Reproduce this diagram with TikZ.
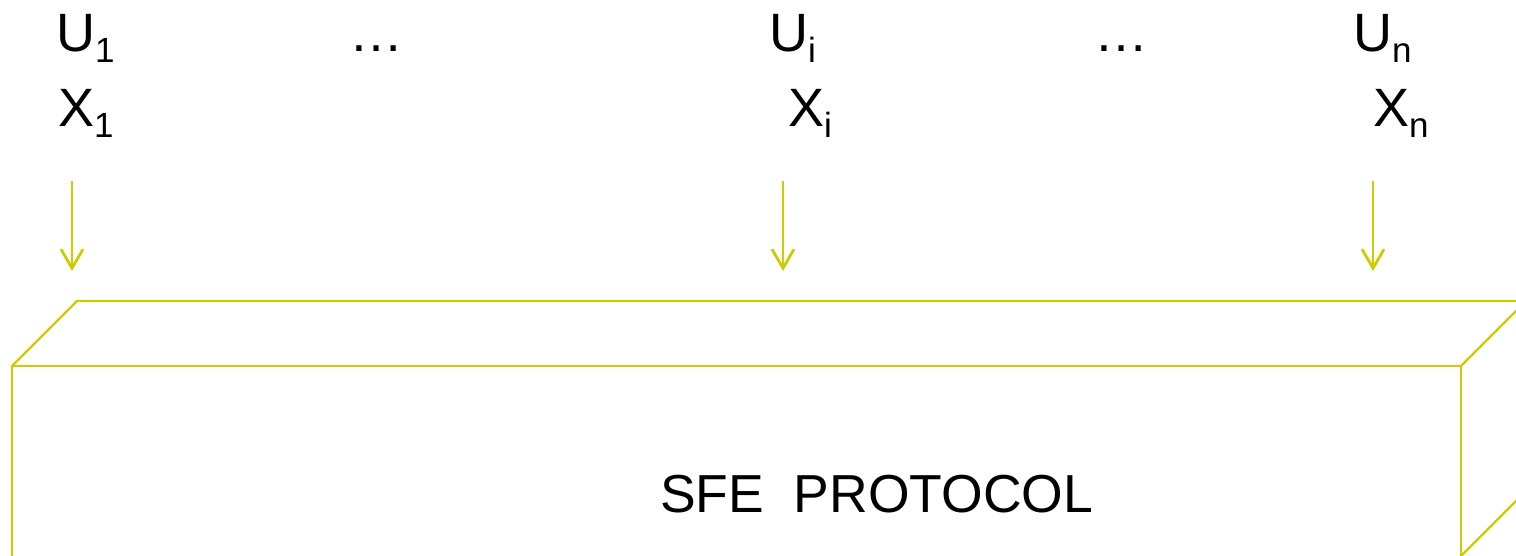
\documentclass[tikz,border=0pt]{standalone}
\usepackage{fontspec}
\setmainfont{Liberation Sans}
\usetikzlibrary{arrows.meta}
\definecolor{boxyellow}{RGB}{204,204,0}
\newcommand{\lbl}[2]{#1\raisebox{-11pt}{\fontsize{35}{40}\selectfont #2}}
\tikzset{
  lab/.style={anchor=base west, inner sep=0pt, font=\fontsize{54}{60}\selectfont},
  title/.style={anchor=base west, inner sep=0pt, font=\fontsize{53.5}{60}\selectfont},
  feed/.style={draw=boxyellow, line width=2.8pt, -{Straight Barb[length=19pt,width=22pt,line width=2.8pt]}},
  edge/.style={draw=boxyellow, line width=2.4pt, line join=miter}
}
\begin{document}
\begin{tikzpicture}[x=1pt,y=-1pt]
\useasboundingbox (0,0) rectangle (1516,556);
\clip (0,0) rectangle (1516,556);
% labels
\node[lab] (u1) at (56,52) {\lbl{U}{1}};
\node[lab] (x1) at (58,127) {\lbl{X}{1}};
\node[lab] (d1) at (349,52) {…};
\node[lab] (ui) at (769,52) {\lbl{U}{i}};
\node[lab] (xi) at (788,127) {\lbl{X}{i}};
\node[lab] (d2) at (1094,52) {…};
\node[lab] (un) at (1353,52) {\lbl{U}{n}};
\node[lab] (xn) at (1373,127) {\lbl{X}{n}};
\node[title] (sfe) at (660,512) {SFE\ \ PROTOCOL};
% arrows
\coordinate (a1) at (72,181);  \coordinate (b1) at (72,271);
\coordinate (ai) at (783,181); \coordinate (bi) at (783,271);
\coordinate (an) at (1373,181);\coordinate (bn) at (1373,271);
\draw[feed] (a1) -- (b1);
\draw[feed] (ai) -- (bi);
\draw[feed] (an) -- (bn);
% box
\coordinate (fl) at (12,366);
\coordinate (fr) at (1461,366);
\coordinate (bl) at (77,301);
\coordinate (br) at (1526,301);
\coordinate (flb) at (12,600);
\coordinate (frb) at (1461,556);
\coordinate (brb) at (1526,491);
\draw[edge] (flb) -- (fl) -- (fr) -- (frb);
\draw[edge] (fl) -- (bl) -- (br) -- (fr);
\draw[edge] (frb) -- (brb);
\draw[edge] (frb) -- ++(0,60);
\end{tikzpicture}
\end{document}
